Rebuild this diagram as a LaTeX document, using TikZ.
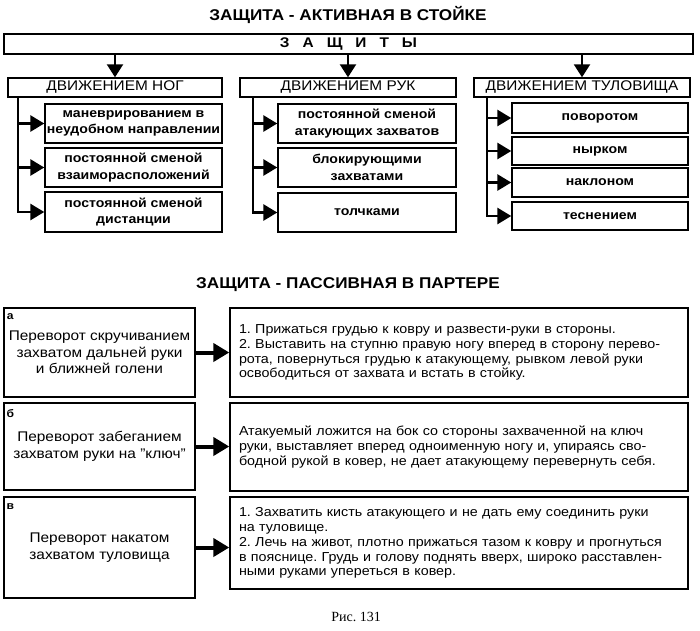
\documentclass[tikz,border=0pt]{standalone}
\usepackage{fontspec}
\setmainfont[FakeStretch=1.1]{Liberation Sans}
\newfontfamily\capserif{Liberation Serif}
\usetikzlibrary{arrows.meta,calc}
\frenchspacing
\begin{document}
\begin{tikzpicture}[x=1pt,y=-1pt,
  box/.style={draw, line width=1.4pt, inner sep=0pt, align=center},
  titlefont/.style={font=\fontsize{15.6}{18}\selectfont\bfseries},
  hdr/.style={box, minimum height=19pt, font=\fontsize{14}{16}\selectfont},
  sub/.style={box, font=\fontsize{12.8}{16.5}\selectfont\bfseries},
  lbox/.style={box, minimum width=191pt, font=\fontsize{14}{16.5}\selectfont},
  rbox/.style={box, minimum width=458pt, inner xsep=9pt, text width=440pt, align=left, font=\fontsize{13}{14.8}\selectfont},
  lbl/.style={font=\fontsize{11}{12}\selectfont\bfseries, inner sep=0pt},
  arr/.style={line width=2.8pt, -{Triangle[length=14pt,width=16pt]}},
  downarr/.style={line width=2.2pt, -{Triangle[length=13pt,width=16pt]}},
  bigarr/.style={line width=4pt, -{Triangle[length=16pt,width=18pt]}}
]
\useasboundingbox (0,0) rectangle (700,630);

% ---------- top section ----------
\node[titlefont] (t1) at (348,15) {ЗАЩИТА - АКТИВНАЯ В СТОЙКЕ};
\node[box, minimum width=689pt, minimum height=20pt, font=\fontsize{14}{16}\selectfont\bfseries] (bar) at (348.5,44) {З\hspace{13pt}А\hspace{13pt}Щ\hspace{13pt}И\hspace{13pt}Т\hspace{13pt}Ы};

\node[hdr, minimum width=214pt] (h1) at (115,87.5) {ДВИЖЕНИЕМ НОГ};
\node[hdr, minimum width=216pt] (h2) at (348,87.5) {ДВИЖЕНИЕМ РУК};
\node[hdr, minimum width=216pt] (h3) at (582,87.5) {ДВИЖЕНИЕМ ТУЛОВИЩА};

\draw[downarr] (bar.south -| h1.north) -- (h1.north);
\draw[downarr] (bar.south -| h2.north) -- (h2.north);
\draw[downarr] (bar.south -| h3.north) -- (h3.north);

% legs
\node[sub, minimum width=177pt, minimum height=39pt] (s11) at (133.5,123.5) {маневрированием в\\неудобном направлении};
\node[sub, minimum width=177pt, minimum height=39pt] (s12) at (133.5,167.5) {постоянной сменой\\взаиморасположений};
\node[sub, minimum width=177pt, minimum height=40pt] (s13) at (133.5,212) {постоянной сменой\\дистанции};
% arms
\node[sub, minimum width=178pt, minimum height=39pt] (s21) at (367,123.5) {постоянной сменой\\атакующих захватов};
\node[sub, minimum width=178pt, minimum height=39pt] (s22) at (367,167.5) {блокирующими\\захватами};
\node[sub, minimum width=178pt, minimum height=39pt] (s23) at (367,212.5) {толчками};
% torso
\node[sub, minimum width=176pt, minimum height=30pt] (s31) at (600,118) {поворотом};
\node[sub, minimum width=176pt, minimum height=28pt] (s32) at (600,151) {нырком};
\node[sub, minimum width=176pt, minimum height=29pt] (s33) at (600,182.5) {наклоном};
\node[sub, minimum width=176pt, minimum height=28pt] (s34) at (600,216) {теснением};

\coordinate (sp1) at (18,0);
\coordinate (sp2) at (253,0);
\coordinate (sp3) at (487,0);

\draw[arr] (h1.south -| sp1) |- (s13.west);
\draw[arr] (s11.west -| sp1) -- (s11.west);
\draw[arr] (s12.west -| sp1) -- (s12.west);

\draw[arr] (h2.south -| sp2) |- (s23.west);
\draw[arr] (s21.west -| sp2) -- (s21.west);
\draw[arr] (s22.west -| sp2) -- (s22.west);

\draw[arr] (h3.south -| sp3) |- (s34.west);
\draw[arr] (s31.west -| sp3) -- (s31.west);
\draw[arr] (s32.west -| sp3) -- (s32.west);
\draw[arr] (s33.west -| sp3) -- (s33.west);

% ---------- bottom section ----------
\node[titlefont] (t2) at (348,285) {ЗАЩИТА - ПАССИВНАЯ В ПАРТЕРЕ};

\node[lbox, minimum height=89pt] (la) at (99.5,352.5) {Переворот скручиванием\\захватом дальней руки\\и ближней голени};
\node[lbox, minimum height=87pt] (lb) at (99.5,446.5) {Переворот забеганием\\захватом руки на "ключ"};
\node[lbox, minimum height=101pt] (lc) at (99.5,547.5) {Переворот накатом\\захватом туловища};

\node[lbl] (ka) at ($(la.north west)+(7,9)$) {а};
\node[lbl] (kb) at ($(lb.north west)+(7,11)$) {б};
\node[lbl] (kc) at ($(lc.north west)+(7,10)$) {в};

\node[rbox, minimum height=89pt] (ra) at (459,352.5) {1. Прижаться грудью к ковру и развести-руки в стороны.\\2. Выставить на ступню правую ногу вперед в сторону перево-\\рота, повернуться грудью к атакующему, рывком левой руки\\освободиться от захвата и встать в стойку.};
\node[rbox, minimum height=88pt] (rb) at (459,447) {Атакуемый ложится на бок со стороны захваченной на ключ\\руки, выставляет вперед одноименную ногу и, упираясь сво-\\бодной рукой в ковер, не дает атакующему перевернуть себя.};
\node[rbox, minimum height=92pt] (rc) at (459,543) {1. Захватить кисть атакующего и не дать ему соединить руки\\на туловище.\\2. Лечь на живот, плотно прижаться тазом к ковру и прогнуться\\в пояснице. Грудь и голову поднять вверх, широко расставлен-\\ными руками упереться в ковер.};

\draw[bigarr] (la.east) -- (la.east -| ra.west);
\draw[bigarr] (lb.east) -- (lb.east -| rb.west);
\draw[bigarr] (lc.east) -- (lc.east -| rc.west);

\node[font=\capserif\fontsize{14}{16}\selectfont] (cap) at (356,617) {Рис. 131};
\end{tikzpicture}
\end{document}
